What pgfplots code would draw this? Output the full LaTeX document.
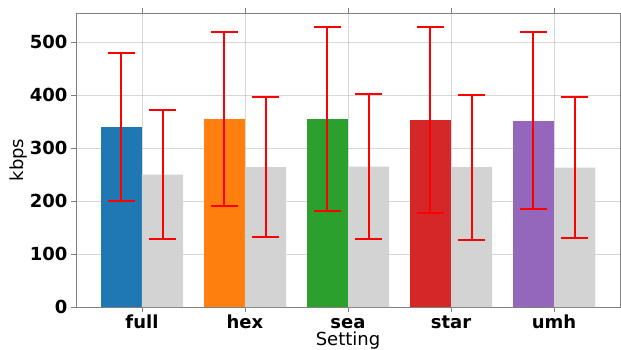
\documentclass[border=0pt]{standalone}
\usepackage{fontspec}
\setmainfont{DejaVu Sans}
\usepackage{pgfplots}
\pgfplotsset{compat=1.18}
\definecolor{c1}{HTML}{1F77B4}
\definecolor{c2}{HTML}{FF7F0E}
\definecolor{c3}{HTML}{2CA02C}
\definecolor{c4}{HTML}{D62728}
\definecolor{c5}{HTML}{9467BD}
\definecolor{mygray}{HTML}{D3D3D3}
\pgfplotsset{eb/.style={error bars/y dir=both, error bars/y explicit,
   error bars/error bar style={color=red, line width=2pt, solid},
   error bars/error mark options={color=red, rotate=90, mark size=13.5pt, line width=2pt, solid}}}
\begin{document}
\begin{tikzpicture}
\begin{axis}[scale only axis, width=544pt, height=294pt,
 xmin=-0.64, xmax=4.64, ymin=0, ymax=555,
 xtick={0,1,2,3,4}, xticklabels={full,hex,sea,star,umh},
 ytick={0,100,200,300,400,500},
 grid=major, grid style={color=black!31, opacity=0.5, line width=0.8pt},
 axis line style={gray, line width=0.8pt},
 tick style={gray, line width=0.8pt},
 tick align=outside, major tick length=5pt,
 ticklabel style={font=\fontsize{18}{20}\selectfont\bfseries},
 xticklabel style={anchor=base, yshift=-16pt},
 /pgf/number format/assume math mode=true,
 xlabel={Setting}, ylabel={kbps},
 label style={font=\fontsize{18}{20}\selectfont},
 xlabel style={at={(axis description cs:0.5,-0.1293)}, anchor=base},
 ylabel style={at={(axis description cs:-0.0956,0.5)}, anchor=base},
 ybar, bar width=0.4,
]
\addplot[fill=c1, draw=none, bar shift=-0.2, eb] coordinates {(0,340) +- (0,140)};
\addplot[fill=c2, draw=none, bar shift=-0.2, eb] coordinates {(1,355) +- (0,165)};
\addplot[fill=c3, draw=none, bar shift=-0.2, eb] coordinates {(2,355) +- (0,174)};
\addplot[fill=c4, draw=none, bar shift=-0.2, eb] coordinates {(3,353) +- (0,175)};
\addplot[fill=c5, draw=none, bar shift=-0.2, eb] coordinates {(4,352) +- (0,167)};
\addplot[fill=mygray, draw=none, bar shift=0.2, eb] coordinates {(0,250) +- (0,121) (1,264) +- (0,132) (2,265) +- (0,137) (3,264) +- (0,137) (4,263) +- (0,133)};
\end{axis}
\pgfresetboundingbox
\path (-76pt,-42pt) rectangle (545pt,307pt);
\end{tikzpicture}
\end{document}
